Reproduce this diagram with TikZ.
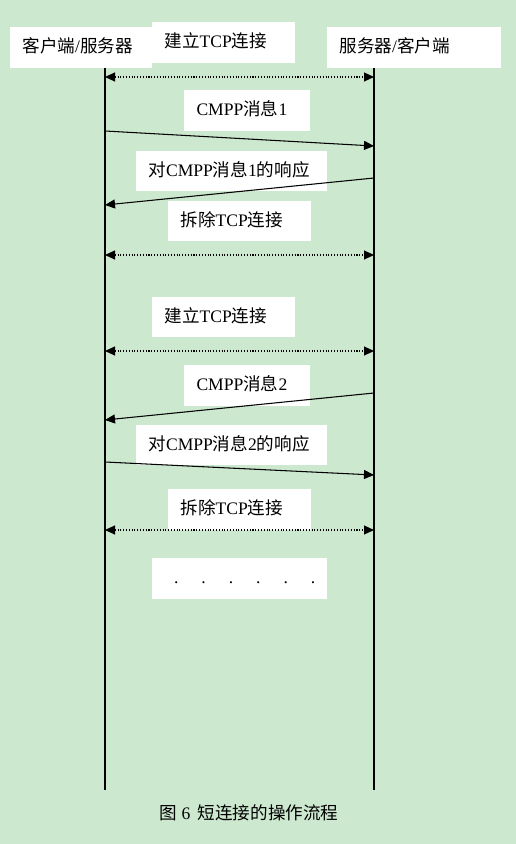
\documentclass[tikz,border=0pt]{standalone}
\usepackage{fontspec}
\setmainfont{Liberation Serif}
\newfontfamily\cjk{Noto Sans CJK SC}
\usetikzlibrary{arrows.meta,positioning}
\definecolor{eyegreen}{RGB}{204,232,207}
\newcommand{\zh}[1]{{\cjk #1}}
\tikzset{
  lbl/.style={fill=white, minimum height=0.82cm, inner xsep=0.25cm, inner ysep=0pt,
              text height=0.75em, text depth=0.15em,
              align=left, text width=#1, font=\fontsize{10}{12}\selectfont},
  life/.style={black, line width=0.6pt},
  msg/.style={-{Triangle[length=2mm,width=1.8mm]}, line width=0.6pt},
  conn/.style={{Triangle[length=2mm,width=1.8mm]}-{Triangle[length=2mm,width=1.8mm]},
               densely dotted, line width=0.6pt},
}

\begin{document}
\begin{tikzpicture}[x=0.02cm, y=-0.02cm]
    \fill[eyegreen] (0,0) rectangle (516,844);
    \useasboundingbox (0,0) rectangle (516,844);
    % headers
    \node[lbl=2.34cm] (cli) at (81,47.5) {\zh{客户端}/\zh{服务器}};
    \node[lbl=2.98cm] (srv) at (414,47.5) {\zh{服务器}/\zh{客户端}};
    \coordinate (Ltop) at (105,68); \coordinate (Lbot) at (105,790);
    \coordinate (Rtop) at (374,68); \coordinate (Rbot) at (374,790);
    \draw[life] (Ltop) -- (Lbot); \draw[life] (Rtop) -- (Rbot);
    % first connection
    \node[lbl=2.36cm] (open1) at (223.5,42.5) {\zh{建立}TCP\zh{连接}};
    \coordinate (La) at (105,77);  \coordinate (Ra) at (374,77);
    \draw[conn] (La) -- (Ra);
    \node[lbl=2.02cm] (req1) at (247,110.5) {CMPP\zh{消息}1};
    \coordinate (Lb) at (105,131); \coordinate (Rb) at (374,146);
    \draw[msg] (Lb) -- (Rb);
    \node[lbl=3.32cm] (resp1) at (231.5,171) {\zh{对}CMPP\zh{消息}1\zh{的响应}};
    \coordinate (Rc) at (374,178); \coordinate (Lc) at (105,205);
    \draw[msg] (Rc) -- (Lc);
    \node[lbl=2.36cm] (close1) at (239.5,221) {\zh{拆除}TCP\zh{连接}};
    \coordinate (Ld) at (105,255); \coordinate (Rd) at (374,255);
    \draw[conn] (Ld) -- (Rd);
    % second connection
    \node[lbl=2.36cm] (open2) at (223.5,317) {\zh{建立}TCP\zh{连接}};
    \coordinate (Le) at (105,351); \coordinate (Re) at (374,351);
    \draw[conn] (Le) -- (Re);
    \node[lbl=2.02cm] (req2) at (247,385.5) {CMPP\zh{消息}2};
    \coordinate (Rf) at (374,393); \coordinate (Lf) at (105,420);
    \draw[msg] (Rf) -- (Lf);
    \node[lbl=3.32cm] (resp2) at (231.5,445) {\zh{对}CMPP\zh{消息}2\zh{的响应}};
    \coordinate (Lg) at (105,462); \coordinate (Rg) at (374,475);
    \draw[msg] (Lg) -- (Rg);
    \node[lbl=2.36cm] (close2) at (239.5,509) {\zh{拆除}TCP\zh{连接}};
    \coordinate (Lh) at (105,530); \coordinate (Rh) at (374,530);
    \draw[conn] (Lh) -- (Rh);
    \node[lbl=3.2cm, inner xsep=0.15cm] (more) at (239.5,578.5)
         {\hspace*{0.29cm}.\hspace{0.46cm}.\hspace{0.46cm}.\hspace{0.46cm}.\hspace{0.46cm}.\hspace{0.46cm}.};
    % caption
    \node[font=\fontsize{10}{12}\selectfont] (cap) at (249,813)
         {\zh{图} 6 \,\zh{短连接的操作流程}};
\end{tikzpicture}
\end{document}
